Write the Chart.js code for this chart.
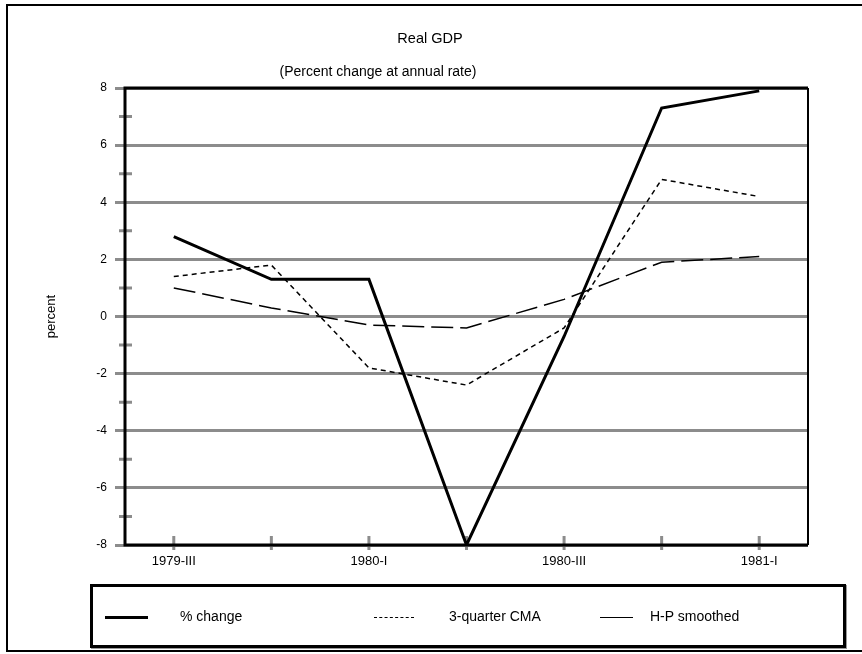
<!DOCTYPE html>
<html>
<head>
<meta charset="utf-8">
<script src="https://cdn.jsdelivr.net/npm/chart.js@4"></script>
<style>
  body { margin: 0; background: #fff; font-family: "Liberation Sans", Arial, sans-serif; }
  #wrap { position: relative; width: 862px; height: 654px; overflow: hidden; }
  #frame { position: absolute; left: 6px; top: 4px; width: 870px; height: 644px; border: 2px solid #000; pointer-events: none; }
  .head { position: absolute; color: #000; white-space: nowrap; transform: translate(-50%, -50%); }
  #legend { position: absolute; left: 90px; top: 584px; width: 750px; height: 58px; border: 3px solid #000; box-shadow: 1px 1px 0 #999; }
  .item { position: absolute; top: 0; height: 58px; line-height: 58px; font-size: 14px; color: #000; }
  .swatch { position: absolute; top: 30px; height: 0; }
</style>
</head>
<body>
<div id="wrap">
  <canvas id="gdpChart" width="862" height="654"></canvas>
  <div id="frame"></div>
  <div class="head" style="left:430px;top:38px;font-size:14.5px">Real GDP</div>
  <div class="head" style="left:378px;top:71px;font-size:14px">(Percent change at annual rate)</div>
  <div id="legend">
    <div class="swatch" style="left:12px;width:43px;border-top:3px solid #000;top:29px"></div>
    <div class="item" style="left:87px">% change</div>
    <div class="swatch" style="left:281px;width:40px;border-top:1.5px dashed #000"></div>
    <div class="item" style="left:356px">3-quarter CMA</div>
    <div class="swatch" style="left:507px;width:33px;border-top:1.5px solid #000"></div>
    <div class="item" style="left:557px">H-P smoothed</div>
  </div>
</div>
<script>
const quarters = ["1979-III", "1979-IV", "1980-I", "1980-II", "1980-III", "1980-IV", "1981-I"];
const pctChange = [2.8, 1.3, 1.3, -8.0, -0.7, 7.3, 7.9];
const cma3 = [1.4, 1.8, -1.8, -2.4, -0.4, 4.8, 4.2];
const hpSmoothed = [1.0, 0.3, -0.3, -0.4, 0.6, 1.9, 2.1];

const FONT = "'Liberation Sans', Arial, sans-serif";
const GRID = "#8c8c8c";

// short tick marks crossing the axes, and the black plot box
const tickMarks = {
    id: "tickMarks",
    beforeDatasetsDraw(chart) {
        const { ctx, chartArea: a, scales } = chart;
        const x = scales.x;
        const y = scales.y;
        ctx.save();
        ctx.strokeStyle = GRID;
        ctx.lineWidth = 3;
        ctx.beginPath();
        y.ticks.forEach((t, i) => {
            if (Math.abs(t.value) % 2 === 1) {
                const py = y.getPixelForTick(i);
                ctx.moveTo(a.left - 6, py);
                ctx.lineTo(a.left + 7, py);
            }
        });
        x.ticks.forEach((t, i) => {
            const px = x.getPixelForTick(i);
            ctx.moveTo(px, a.bottom - 9);
            ctx.lineTo(px, a.bottom + 5);
        });
        ctx.stroke();

        ctx.strokeStyle = "#000";
        ctx.lineWidth = 3;
        ctx.beginPath();
        ctx.moveTo(a.right, a.top);
        ctx.lineTo(a.left, a.top);
        ctx.lineTo(a.left, a.bottom);
        ctx.lineTo(a.right, a.bottom);
        ctx.stroke();
        ctx.lineWidth = 2;
        ctx.beginPath();
        ctx.moveTo(a.right, a.top);
        ctx.lineTo(a.right, a.bottom);
        ctx.stroke();
        ctx.restore();
    },
};

new Chart(document.getElementById("gdpChart"), {
    type: "line",
    data: {
        labels: quarters,
        datasets: [
            {
                label: "% change",
                data: pctChange,
                borderColor: "#000",
                borderWidth: 3,
                pointRadius: 0,
                tension: 0,
            },
            {
                label: "3-quarter CMA",
                data: cma3,
                borderColor: "#000",
                borderWidth: 1.5,
                borderDash: [5, 4],
                pointRadius: 0,
                tension: 0,
            },
            {
                label: "H-P smoothed",
                data: hpSmoothed,
                borderColor: "#000",
                borderWidth: 1.5,
                borderDash: [22, 7],
                pointRadius: 0,
                tension: 0,
            },
        ],
    },
    options: {
        responsive: false,
        animation: false,
        layout: {
            padding: { left: 0, right: 54, top: 88, bottom: 79 },
        },
        plugins: {
            legend: { display: false },
            tooltip: { enabled: false },
        },
        scales: {
            x: {
                offset: true,
                grid: {
                    display: true,
                    drawOnChartArea: false,
                    color: "rgba(0,0,0,0)",
                    tickLength: 6,
                },
                border: { display: false },
                ticks: {
                    color: "#000",
                    autoSkip: false,
                    maxRotation: 0,
                    padding: 3,
                    font: { family: FONT, size: 13 },
                    callback: function (value, index) {
                        return index % 2 === 0 ? this.getLabelForValue(value) : "";
                    },
                },
                afterFit(scale) {
                    scale.height = 30;
                },
            },
            y: {
                min: -8,
                max: 8,
                grid: {
                    color: (c) => (Math.abs(c.tick.value) % 2 === 0 ? GRID : "rgba(0,0,0,0)"),
                    lineWidth: 3,
                    tickLength: 10,
                },
                border: { display: false },
                ticks: {
                    stepSize: 1,
                    color: "#000",
                    padding: 8,
                    font: { family: FONT, size: 12 },
                    callback: function (value) {
                        return value % 2 === 0 ? value : "";
                    },
                },
                title: {
                    display: true,
                    text: "percent",
                    color: "#000",
                    font: { family: FONT, size: 13 },
                    padding: { top: 44, bottom: 0 },
                },
                afterFit(scale) {
                    scale.width = 125;
                },
            },
        },
    },
    plugins: [tickMarks],
});
</script>
</body>
</html>
